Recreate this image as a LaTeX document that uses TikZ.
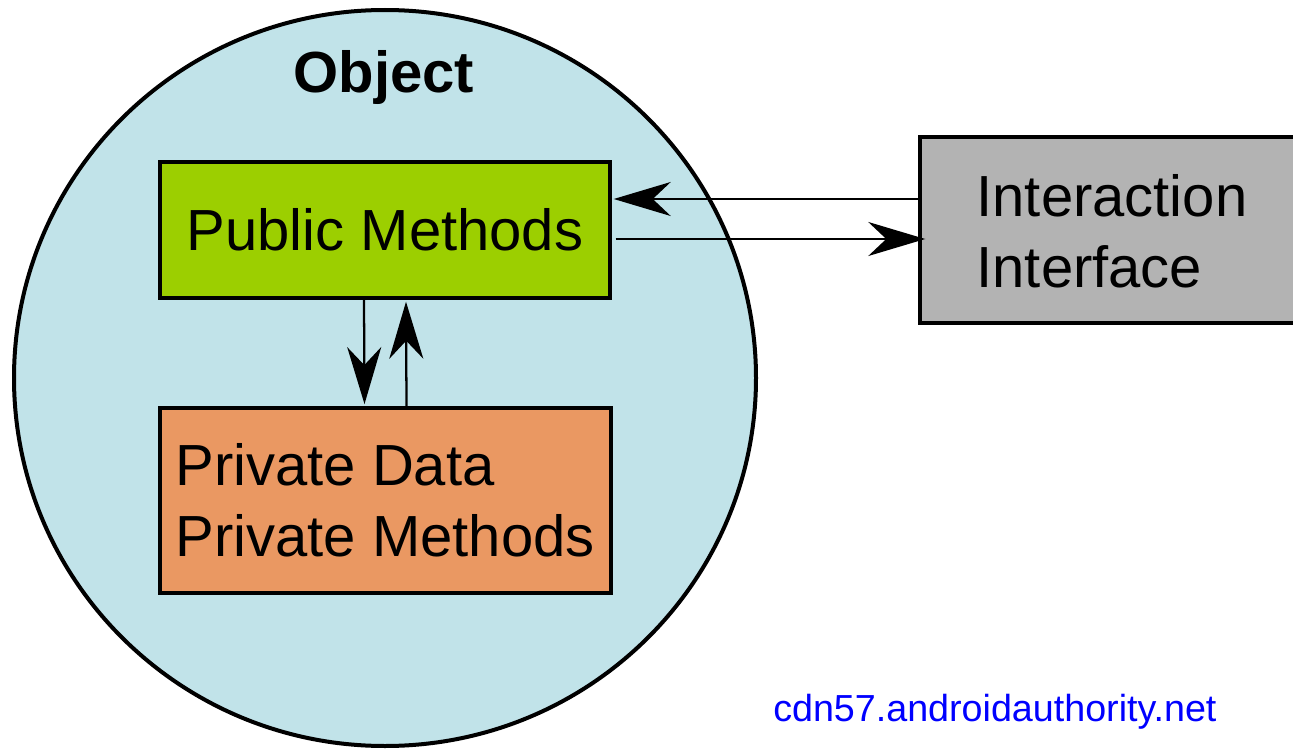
\documentclass[tikz,border=0pt]{standalone}
\usepackage{fontspec}
\setmainfont{Liberation Sans}
\usetikzlibrary{calc,arrows.meta}

\definecolor{objblue}{RGB}{193,227,233}
\definecolor{pubgreen}{RGB}{156,207,0}
\definecolor{privorange}{RGB}{234,152,98}
\definecolor{ifacegray}{RGB}{179,179,179}
\definecolor{webblue}{RGB}{0,0,255}

\tikzset{
  boxline/.style={draw=black, line width=2.6pt},
  bigtext/.style={font=\fontsize{43.5pt}{53.25pt}\selectfont},
  flow/.style={line width=1.7pt, -{Stealth[length=42.75pt, width=25.5pt, inset=13.5pt]}},
}

\begin{document}
\begin{tikzpicture}[x=0.75pt,y=0.75pt,yscale=-1,xscale=1]
  \path[use as bounding box] (0,0) rectangle (1293,749);
  \clip (0,0) rectangle (1293,749);

  %Shape: Ellipse
  \draw[fill=objblue, line width=3pt] (385,378) ellipse [x radius=371, y radius=368];

  % Text Node
  \node[font=\fontsize{43.5pt}{53.25pt}\selectfont\bfseries, anchor=base] (objtitle) at (384,93) {Object};

  %Shape: Rectangle
  \node[boxline, fill=pubgreen, bigtext, minimum width=337.5pt, minimum height=102pt, inner sep=0pt] (pub) at (385,230) {Public Methods};
  %Shape: Rectangle
  \node[boxline, fill=privorange, minimum width=338.25pt, minimum height=139pt, inner sep=0pt] (priv) at (385.5,500.5) {};
  % Text Node
  \node[bigtext, align=left, anchor=west, inner sep=0pt] (privtext) at ($(priv.west)+(17,0)$) {Private Data\\Private Methods};
  %Shape: Rectangle
  \node[boxline, fill=ifacegray, minimum width=300pt, minimum height=139.5pt, inner sep=0pt] (iface) at (1120,230) {};
  % Text Node
  \node[bigtext, align=left, anchor=west, inner sep=0pt] (ifacetext) at ($(iface.west)+(58,1)$) {Interaction\\Interface};

  %Straight Lines
  \draw[flow] ($(iface.west)+(0,-31)$) -- ($(pub.east)+(2,-31)$);
  \draw[flow] ($(pub.east)+(4,9)$) -- ($(iface.west)+(7,9)$);
  \draw[flow] ($(pub.south)+(-21,0)$) -- ($(priv.north)+(-21,-2)$);
  \draw[flow] ($(priv.north)+(21,0)$) -- ($(pub.south)+(21,2)$);

  % Text Node
  \node[anchor=base west, text=webblue, font=\fontsize{28.25pt}{33pt}\selectfont, inner sep=0pt] (srcnote) at (773,721) {cdn57.androidauthority.net};
\end{tikzpicture}
\end{document}
